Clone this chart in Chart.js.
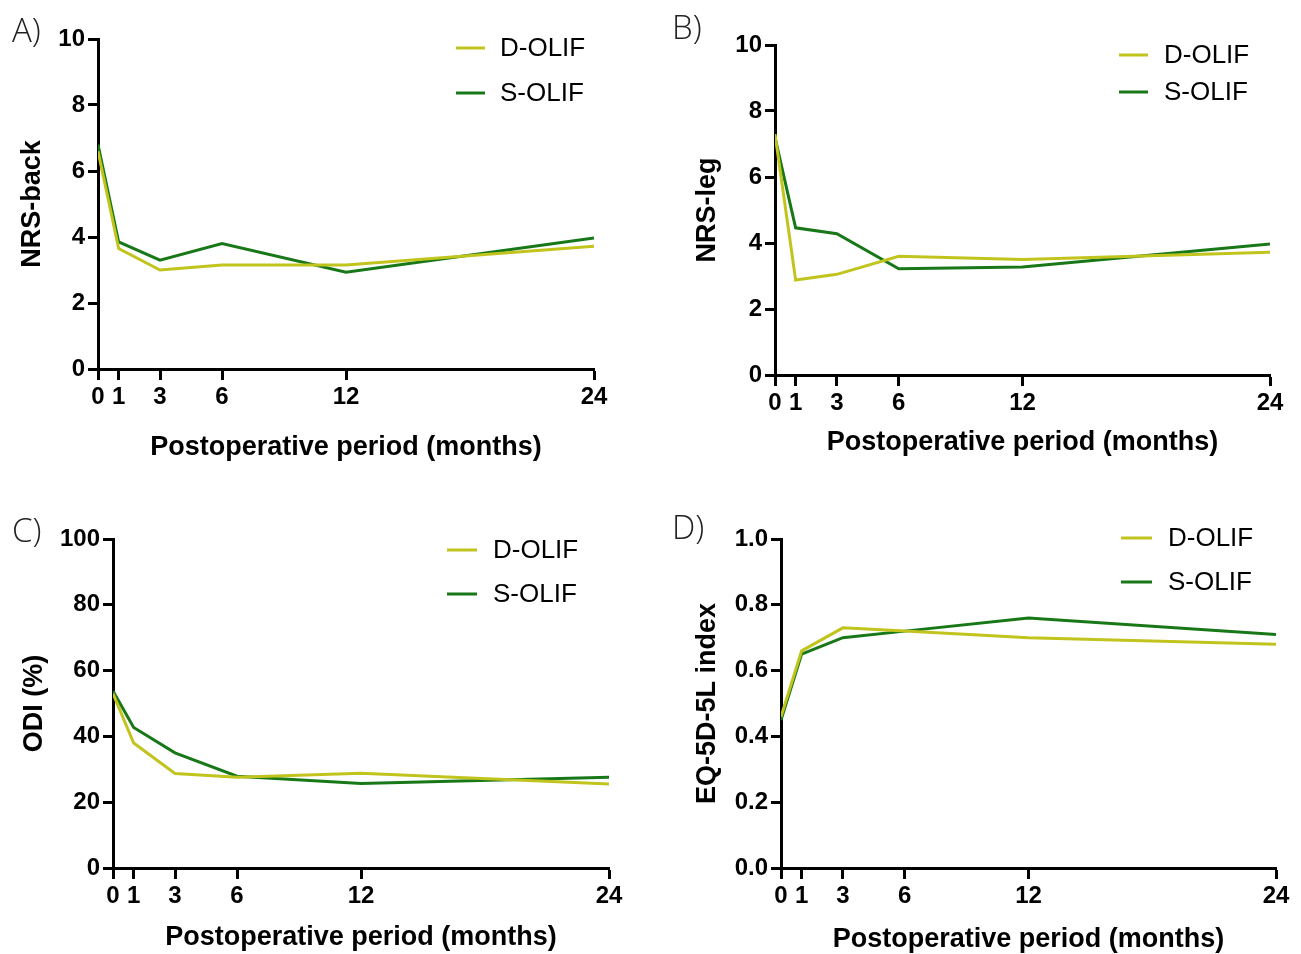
<!DOCTYPE html>
<html lang="en">
<head>
  <meta charset="UTF-8">
  <title>Postoperative outcomes D-OLIF vs S-OLIF</title>
  <script src="https://cdn.jsdelivr.net/npm/chart.js"></script>
  <style>
    html, body { margin: 0; padding: 0; background: #fff; }
    #page { position: relative; width: 1301px; height: 954px; overflow: hidden; }
    canvas { position: absolute; }
    .panel-label { position: absolute; font-family: 'Open Sans', 'Liberation Sans', sans-serif; font-weight: 300; font-size: 33px; line-height: 1; color: #222; }
  </style>
</head>
<body>
  <div id="page"></div>

  <script>
    // data
    const months = [0, 1, 3, 6, 12, 24];
    const xTicks = [0, 1, 3, 6, 12, 24];
    const seriesNames = ['D-OLIF', 'S-OLIF'];

    const nrsBackD = [6.6, 3.65, 3.0, 3.15, 3.15, 3.72];
    const nrsBackS = [6.8, 3.85, 3.3, 3.8, 2.93, 3.97];
    const nrsLegD = [7.3, 2.88, 3.05, 3.6, 3.5, 3.72];
    const nrsLegS = [7.2, 4.46, 4.28, 3.22, 3.27, 3.97];
    const odiD = [53, 38, 28.7, 27.6, 28.8, 25.5];
    const odiS = [53.8, 42.7, 35, 27.9, 25.7, 27.6];
    const eqD = [0.46, 0.66, 0.73, 0.72, 0.70, 0.68];
    const eqS = [0.45, 0.65, 0.70, 0.72, 0.76, 0.71];

    const colD = 'rgb(194, 196, 30)';
    const colS = 'rgb(24, 120, 24)';
    const tickFont = { family: "'Liberation Sans', Arial, sans-serif", size: 24, weight: 'bold' };
    const titleFont = { family: "'Liberation Sans', Arial, sans-serif", size: 27, weight: 'bold', lineHeight: 1.2 };
    const titleHalf = 27 * 1.2 / 2;

    // draws the two-line legend inside the plot
    const panelLegend = {
      id: 'panelLegend',
      afterDraw(chart, args, opts) {
        const ctx = chart.ctx;
        ctx.save();
        ctx.font = "26px 'Liberation Sans', Arial, sans-serif";
        ctx.textBaseline = 'middle';
        chart.data.datasets.forEach((ds, i) => {
          const y = opts.ys[i];
          ctx.strokeStyle = ds.borderColor;
          ctx.lineWidth = 3;
          ctx.beginPath();
          ctx.moveTo(opts.x1, y);
          ctx.lineTo(opts.x2, y);
          ctx.stroke();
          ctx.fillStyle = '#000';
          ctx.fillText(ds.label, opts.tx, y + 1);
        });
        ctx.restore();
      }
    };

    const panels = [
      { label: 'A)', lx: 12, ly: 13, box: [0, 0, 650, 477], area: { l: 98, r: 594, t: 39, b: 369 },
        yTitle: 'NRS-back', yTitleX: 33, xTitleY: 448, yMax: 10, step: 2, d: nrsBackD, s: nrsBackS,
        leg: { x1: 456, x2: 485, tx: 500, ys: [48, 93] } },
      { label: 'B)', lx: 672, ly: 10, box: [650, 0, 651, 477], area: { l: 775, r: 1270, t: 45, b: 375 },
        yTitle: 'NRS-leg', yTitleX: 708, xTitleY: 443, yMax: 10, step: 2, d: nrsLegD, s: nrsLegS,
        leg: { x1: 1119, x2: 1148, tx: 1164, ys: [55, 92] } },
      { label: 'C)', lx: 12, ly: 513, box: [0, 477, 650, 477], area: { l: 113, r: 609, t: 539, b: 868 },
        yTitle: 'ODI (%)', yTitleX: 35, xTitleY: 938, yMax: 100, step: 20, d: odiD, s: odiS,
        leg: { x1: 447, x2: 477, tx: 493, ys: [550, 594] } },
      { label: 'D)', lx: 672, ly: 510, box: [650, 477, 651, 477], area: { l: 781, r: 1276, t: 539, b: 868 },
        yTitle: 'EQ-5D-5L index', yTitleX: 708, xTitleY: 940, yMax: 1, step: 0.2, d: eqD, s: eqS, fixed: 1,
        leg: { x1: 1121, x2: 1152, tx: 1168, ys: [538, 582] } }
    ];

    const page = document.getElementById('page');

    panels.forEach(p => {
      const [bx, by, bw, bh] = p.box;
      const cv = document.createElement('canvas');
      cv.width = bw;
      cv.height = bh;
      cv.style.left = bx + 'px';
      cv.style.top = by + 'px';
      cv.style.width = bw + 'px';
      cv.style.height = bh + 'px';
      page.appendChild(cv);

      const lab = document.createElement('div');
      lab.className = 'panel-label';
      lab.textContent = p.label;
      lab.style.left = p.lx + 'px';
      lab.style.top = p.ly + 'px';
      page.appendChild(lab);

      const makeSet = (name, vals, color) => ({
        label: name,
        data: months.map((m, i) => ({ x: m, y: vals[i] })),
        borderColor: color,
        backgroundColor: color,
        borderWidth: 3,
        pointRadius: 0,
        tension: 0,
        fill: false
      });

      new Chart(cv, {
        type: 'line',
        data: {
          datasets: [
            makeSet(seriesNames[0], p.d, colD),
            makeSet(seriesNames[1], p.s, colS)
          ]
        },
        options: {
          responsive: false,
          animation: false,
          layout: { padding: { left: 0, top: p.area.t - by, right: bx + bw - p.area.r, bottom: 0 } },
          plugins: {
            legend: { display: false },
            tooltip: { enabled: false },
            panelLegend: { x1: p.leg.x1 - bx, x2: p.leg.x2 - bx, tx: p.leg.tx - bx, ys: p.leg.ys.map(v => v - by) }
          },
          scales: {
            x: {
              type: 'linear',
              min: 0,
              max: 24,
              afterBuildTicks: s => { s.ticks = xTicks.map(v => ({ value: v })); },
              afterFit: s => { s.height = by + bh - p.area.b; },
              border: { display: true, color: '#000', width: 3 },
              grid: { drawOnChartArea: false, drawTicks: true, tickLength: 11, tickWidth: 3, tickColor: '#000' },
              ticks: { font: tickFont, color: '#000', padding: 3, maxRotation: 0, autoSkip: false },
              title: { display: true, text: 'Postoperative period (months)', font: titleFont, color: '#000',
                       padding: { top: 0, bottom: by + bh - p.xTitleY - titleHalf } }
            },
            y: {
              min: 0,
              max: p.yMax,
              afterFit: s => { s.width = p.area.l - bx; },
              border: { display: true, color: '#000', width: 3 },
              grid: { drawOnChartArea: false, drawTicks: true, tickLength: 10, tickWidth: 3, tickColor: '#000' },
              ticks: {
                stepSize: p.step,
                font: tickFont,
                color: '#000',
                padding: 3,
                callback: v => p.fixed ? v.toFixed(p.fixed) : v
              },
              title: { display: true, text: p.yTitle, font: titleFont, color: '#000',
                       padding: { top: p.yTitleX - bx - titleHalf, bottom: 0 } }
            }
          }
        },
        plugins: [panelLegend]
      });
    });
  </script>
</body>
</html>
